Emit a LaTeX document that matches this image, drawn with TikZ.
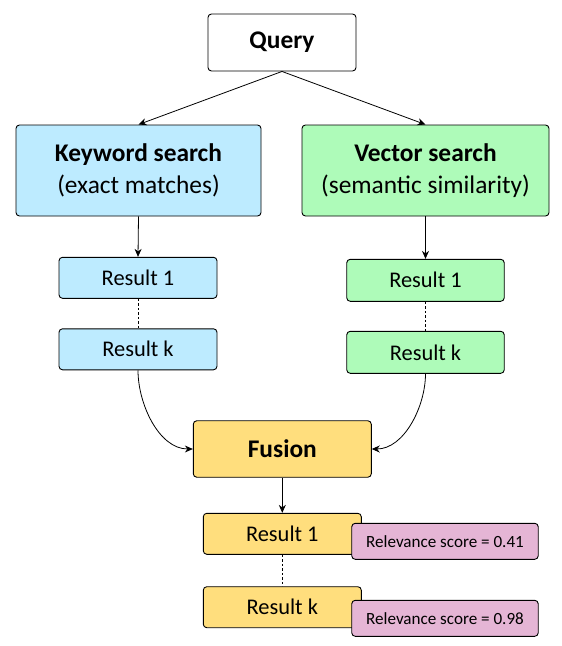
\documentclass[tikz,border=0pt]{standalone}
\usepackage{fontspec}
\setmainfont{Carlito}
\usetikzlibrary{arrows.meta}
\definecolor{kwblue}{HTML}{BDEBFF}
\definecolor{vecgreen}{HTML}{AEFBB9}
\definecolor{fusyellow}{HTML}{FFDE7D}
\definecolor{relpink}{HTML}{E5B5D5}
\tikzset{
  box/.style={draw=black, line width=0.9pt, rounded corners=3.5pt, inner sep=0pt, align=center},
  bigbox/.style={box, font=\fontsize{25.4}{32}\selectfont},
  resbox/.style={box, font=\fontsize{22.4}{27}\selectfont},
  relbox/.style={box, fill=relpink, font=\fontsize{17.1}{21}\selectfont},
  arr/.style={draw=black, line width=0.8pt, -{Stealth[length=8pt,width=7pt]}},
  dotline/.style={draw=black, line width=0.6pt, dash pattern=on 2.5pt off 2pt},
}
\begin{document}
\begin{tikzpicture}[x=1pt,y=-1pt]
\useasboundingbox (0,0) rectangle (562,646);
% top
\node[bigbox, fill=white, minimum width=148pt, minimum height=57pt] (q) at (282,42.5) {\textbf{Query}};
\node[bigbox, fill=kwblue, minimum width=245pt, minimum height=91pt] (kw) at (138.5,170.5) {\textbf{Keyword search}\\(exact matches)};
\node[bigbox, fill=vecgreen, minimum width=247pt, minimum height=91pt] (vs) at (425.5,170.5) {\textbf{Vector search}\\(semantic similarity)};
% left results
\node[resbox, fill=kwblue, minimum width=158pt, minimum height=41pt] (kr1) at (138,277.8) {Result 1};
\node[resbox, fill=kwblue, minimum width=158pt, minimum height=41pt] (krk) at (138,349.3) {Result k};
% right results
\node[resbox, fill=vecgreen, minimum width=157.5pt, minimum height=42pt] (vr1) at (425.5,280.3) {Result 1};
\node[resbox, fill=vecgreen, minimum width=157.5pt, minimum height=42pt] (vrk) at (425.5,352.3) {Result k};
% fusion
\node[bigbox, fill=fusyellow, minimum width=178pt, minimum height=56.5pt] (fu) at (282.3,449) {\textbf{Fusion}};
\node[resbox, fill=fusyellow, minimum width=158pt, minimum height=41pt] (fr1) at (282.3,533.8) {Result 1};
\node[resbox, fill=fusyellow, minimum width=158pt, minimum height=41pt] (frk) at (282.3,607.2) {Result k};
\node[relbox, minimum width=186.5pt, minimum height=36pt] (s1) at (445,541.3) {Relevance score = 0.41};
\node[relbox, minimum width=186.5pt, minimum height=36pt] (s2) at (445,618.3) {Relevance score = 0.98};
% connectors
\draw[arr] (q.south) -- (kw.north);
\draw[arr] (q.south) -- (vs.north);
\draw[arr] (kw.south) -- (kr1.north);
\draw[arr] (vs.south) -- (vr1.north);
\draw[dotline] (kr1.south) -- (krk.north);
\draw[dotline] (vr1.south) -- (vrk.north);
\draw[arr] (krk.south) to[out=-90,in=180,looseness=0.9] (fu.west);
\draw[arr] (vrk.south) to[out=-90,in=0,looseness=0.9] (fu.east);
\draw[arr] (fu.south) -- (fr1.north);
\draw[dotline] (fr1.south) -- (frk.north);
\end{tikzpicture}
\end{document}
